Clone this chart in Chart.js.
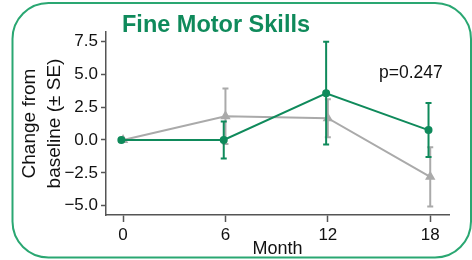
<!DOCTYPE html>
<html>
<head>
<meta charset="utf-8">
<script src="https://cdn.jsdelivr.net/npm/chart.js@4"></script>
<style>
html, body { margin: 0; padding: 0; background: #fff; }
#wrap { width: 472px; height: 260px; }
</style>
</head>
<body>
<div id="wrap"><canvas id="myChart" width="472" height="260"></canvas></div>
<script>
// values
const months = [0, 6, 12, 18];
const treatMean = [0.0, 0.0, 3.55, 0.75];
const treatSE = [0.0, 1.4, 3.9, 2.05];
const controlMean = [0.0, 1.8, 1.65, -2.8];
const controlSE = [0.0, 2.1, 1.45, 2.25];
const yTicks = [-5, -2.5, 0, 2.5, 5, 7.5];
const xTicks = [0, 6, 12, 18];
const chartTitle = 'Fine Motor Skills';
const pLabel = 'p=0.247';

const GREEN = '#0f8a5b';
const GRAY = '#aaaaaa';
const FONT = '"Liberation Sans", Arial, Helvetica, sans-serif';

// tiny dodge so the two series don't sit exactly on top of each other
const dodge = 0.1;

function points(mean, shift) {
  return months.map((m, i) => ({ x: m + shift, y: mean[i] }));
}

// error bars, drawn just before each line so layering follows the datasets
const errorBars = {
  id: 'errorBars',
  beforeDatasetDraw(chart, args) {
    const ds = chart.data.datasets[args.index];
    const xs = chart.scales.x, ys = chart.scales.y;
    const ctx = chart.ctx;
    ctx.save();
    ctx.strokeStyle = ds.borderColor;
    ctx.lineWidth = 2;
    ds.data.forEach((pt, i) => {
      const se = ds.se[i];
      if (!se) return;
      const px = xs.getPixelForValue(pt.x);
      const top = ys.getPixelForValue(pt.y + se);
      const bot = ys.getPixelForValue(pt.y - se);
      ctx.beginPath();
      ctx.moveTo(px, top); ctx.lineTo(px, bot);
      ctx.moveTo(px - 3, top); ctx.lineTo(px + 3, top);
      ctx.moveTo(px - 3, bot); ctx.lineTo(px + 3, bot);
      ctx.stroke();
    });
    ctx.restore();
  }
};

// rounded green frame + title + p value
const frame = {
  id: 'frame',
  beforeDraw(chart) {
    const ctx = chart.ctx;
    ctx.save();
    ctx.strokeStyle = '#2aa772';
    ctx.lineWidth = 2;
    ctx.beginPath();
    ctx.roundRect(12.5, 3, 458.5, 254.5, 36);
    ctx.stroke();
    ctx.restore();
  },
  afterDraw(chart) {
    const ctx = chart.ctx;
    ctx.save();
    ctx.textBaseline = 'alphabetic';
    ctx.fillStyle = GREEN;
    ctx.font = 'bold 23.5px ' + FONT;
    ctx.fillText(chartTitle, 122, 32);
    ctx.fillStyle = '#111';
    ctx.font = '17.5px ' + FONT;
    ctx.fillText(pLabel, 379, 78);
    ctx.restore();
  }
};

const ctx = document.getElementById('myChart').getContext('2d');
new Chart(ctx, {
  type: 'line',
  data: {
    datasets: [
      {
        label: 'Treatment',
        data: points(treatMean, -dodge),
        se: treatSE,
        borderColor: GREEN,
        backgroundColor: GREEN,
        borderWidth: 2,
        pointStyle: 'circle',
        pointRadius: 3,
        tension: 0
      },
      {
        label: 'Control',
        data: points(controlMean, 0),
        se: controlSE,
        borderColor: GRAY,
        backgroundColor: GRAY,
        borderWidth: 2,
        pointStyle: 'triangle',
        pointRadius: 4,
        tension: 0
      }
    ]
  },
  options: {
    responsive: false,
    animation: false,
    layout: { padding: { top: 32, right: 23, bottom: 0, left: 0 } },
    plugins: {
      legend: { display: false },
      title: { display: false },
      tooltip: { enabled: false }
    },
    scales: {
      x: {
        type: 'linear',
        min: -1,
        max: 19.1,
        afterBuildTicks: s => { s.ticks = xTicks.map(v => ({ value: v })); },
        afterFit: s => { s.height = 45; },
        grid: { drawOnChartArea: false, drawTicks: true, tickLength: 7, tickColor: '#555', tickWidth: 1.5 },
        border: { color: '#555', width: 1.5 },
        ticks: { color: '#111', font: { family: FONT, size: 17 }, padding: 3, maxRotation: 0 },
        title: {
          display: true,
          text: 'Month',
          color: '#111',
          font: { family: FONT, size: 18 },
          padding: { top: 0, bottom: 0 }
        }
      },
      y: {
        type: 'linear',
        min: -5.7,
        max: 8.2,
        afterBuildTicks: s => { s.ticks = yTicks.map(v => ({ value: v })); },
        afterFit: s => { s.width = 106; },
        grid: { drawOnChartArea: false, drawTicks: true, tickLength: 5, tickColor: '#555', tickWidth: 1.5 },
        border: { color: '#555', width: 1.5 },
        ticks: {
          color: '#111',
          font: { family: FONT, size: 17 },
          padding: 3,
          callback: v => v.toFixed(1).replace('-', '\u2212')
        },
        title: {
          display: true,
          text: ['Change from', 'baseline (\u00b1 SE)'],
          color: '#111',
          font: { family: FONT, size: 19, lineHeight: 1.32 },
          padding: { top: 17, bottom: 0 }
        }
      }
    }
  },
  plugins: [errorBars, frame]
});
</script>
</body>
</html>
